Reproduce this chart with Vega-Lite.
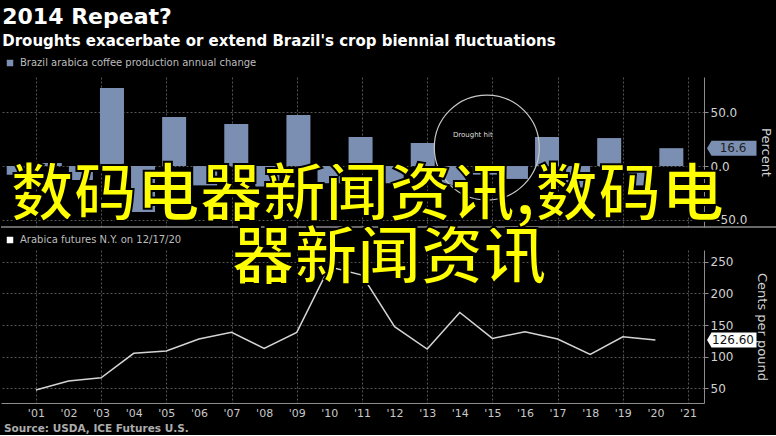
{
  "$schema": "https://vega.github.io/schema/vega-lite/v6.json",
  "background": "#000000",
  "padding": {"top": 6, "left": 0, "right": 0, "bottom": 0},
  "config": {
    "font": "DejaVu Sans",
    "view": {"stroke": null},
    "axis": {"labelFont": "DejaVu Sans", "titleFont": "DejaVu Sans", "gridColor": "#555555", "gridDash": [2, 2], "gridWidth": 1, "domainColor": "#8c8c8c", "tickColor": "#8c8c8c", "labelColor": "#d2d2d2", "titleColor": "#d2d2d2", "titleFontWeight": "normal"}
  },
  "title": {
    "text": "2014 Repeat?",
    "subtitle": "Droughts exacerbate or extend Brazil's crop biennial fluctuations",
    "anchor": "start",
    "dx": 2,
    "color": "#ffffff",
    "font": "DejaVu Sans",
    "fontSize": 22,
    "fontWeight": "bold",
    "subtitleColor": "#ffffff",
    "subtitleFont": "DejaVu Sans",
    "subtitleFontSize": 15,
    "subtitleFontWeight": "bold",
    "subtitlePadding": 5,
    "offset": 8
  },
  "resolve": {"scale": {"x": "independent", "y": "independent", "color": "independent"}, "legend": {"color": "independent"}},
  "bounds": "flush",
  "spacing": 23,
  "vconcat": [
    {
      "width": 703,
      "height": 150,
      "resolve": {"scale": {"x": "independent"}},
      "layer": [
        {
          "data": {"values": [{"sep": 1}]},
          "mark": {"type": "rule", "color": "#8a8a8a", "strokeWidth": 1.5},
          "encoding": {
            "x": {"datum": 1999.93, "type": "quantitative", "scale": {"domain": [1999.93, 2021.49], "nice": false, "zero": false},
                  "axis": {"orient": "bottom", "values": [2001, 2003, 2005, 2007, 2009, 2011, 2013, 2015, 2017, 2019, 2021], "labels": false, "ticks": false, "domain": false, "grid": true, "title": null}},
            "x2": {"datum": 2023.8},
            "y": {"datum": -56.7, "type": "quantitative", "scale": {"domain": [-56.7, 82.8], "nice": false, "zero": false},
                  "axis": {"orient": "right", "values": [-50, 0, 50], "format": ".1f", "grid": true, "tickSize": 4, "labelPadding": 2, "labelFontSize": 12, "labelOverlap": false, "title": "Percent", "titleFontSize": 13, "titleAngle": 90, "titlePadding": 12}}
          }
        },
        {
          "data": {"values": [
            {"year": 2000, "change": -8}, {"year": 2001, "change": 2.8}, {"year": 2002, "change": -13},
            {"year": 2003, "change": 72.6}, {"year": 2004, "change": -42.8}, {"year": 2005, "change": 45.6},
            {"year": 2006, "change": -18}, {"year": 2007, "change": 39.1}, {"year": 2008, "change": -19},
            {"year": 2009, "change": 47.4}, {"year": 2010, "change": -16}, {"year": 2011, "change": 27.0},
            {"year": 2012, "change": -16}, {"year": 2013, "change": 21.4}, {"year": 2014, "change": -18},
            {"year": 2015, "change": -8}, {"year": 2016, "change": -12}, {"year": 2017, "change": 27.0},
            {"year": 2018, "change": -20}, {"year": 2019, "change": 26.0}, {"year": 2020, "change": -18},
            {"year": 2021, "change": 16.6}
          ]},
          "mark": {"type": "bar", "size": 24},
          "encoding": {
            "x": {"field": "year", "type": "quantitative", "scale": {"domain": [1999.59, 2021.89], "nice": false, "zero": false}, "axis": null},
            "y": {"field": "change", "type": "quantitative", "scale": {"domain": [-56.7, 82.8], "nice": false, "zero": false},
                  "axis": {"orient": "right", "values": [-50, 0, 50], "format": ".1f", "grid": true, "tickSize": 4, "labelPadding": 2, "labelFontSize": 12, "labelOverlap": false, "title": "Percent", "titleFontSize": 13, "titleAngle": 90, "titlePadding": 12}},
            "color": {"datum": "Brazil arabica coffee production annual change", "type": "nominal", "scale": {"range": ["#7b8fb2"]},
                      "legend": {"orient": "none", "legendX": 4, "legendY": -19, "title": null, "symbolType": "square", "symbolSize": 42, "symbolStrokeWidth": 0, "labelColor": "#bdbdbd", "labelFontSize": 10, "labelFont": "DejaVu Sans", "labelOffset": 5, "labelLimit": 0, "padding": 0}}
          }
        },
        {
          "data": {"values": [{"year": 2015, "change": 17.2, "note": "Drought hit"}]},
          "layer": [
            {
              "mark": {"type": "point", "shape": "circle", "size": 11025, "filled": false, "stroke": "#c8c8c8", "strokeWidth": 1.2, "opacity": 1},
              "encoding": {
                "x": {"field": "year", "type": "quantitative", "scale": {"domain": [1999.59, 2021.89], "nice": false, "zero": false}, "axis": null},
                "y": {"field": "change", "type": "quantitative", "scale": {"domain": [-56.7, 82.8], "nice": false, "zero": false},
                      "axis": {"orient": "right", "values": [-50, 0, 50], "format": ".1f", "grid": true, "tickSize": 4, "labelPadding": 2, "labelFontSize": 12, "labelOverlap": false, "title": "Percent", "titleFontSize": 13, "titleAngle": 90, "titlePadding": 12}}
              }
            },
            {
              "mark": {"type": "text", "fontSize": 7, "color": "#dddddd", "dx": -14, "dy": -12.5},
              "encoding": {
                "x": {"field": "year", "type": "quantitative", "scale": {"domain": [1999.59, 2021.89], "nice": false, "zero": false}, "axis": null},
                "y": {"field": "change", "type": "quantitative", "scale": {"domain": [-56.7, 82.8], "nice": false, "zero": false},
                      "axis": {"orient": "right", "values": [-50, 0, 50], "format": ".1f", "grid": true, "tickSize": 4, "labelPadding": 2, "labelFontSize": 12, "labelOverlap": false, "title": "Percent", "titleFontSize": 13, "titleAngle": 90, "titlePadding": 12}},
                "text": {"field": "note"}
              }
            }
          ]
        },
        {
          "data": {"values": [{"change": 16.6, "label": "16.6"}]},
          "layer": [
            {
              "mark": {"type": "point", "shape": "M0.12,0L0.3,-0.3L2.1,-0.3L2.1,0.3L0.3,0.3Z", "size": 2500, "filled": true, "color": "#7b8fb2", "opacity": 1},
              "encoding": {
                "x": {"value": "width"},
                "y": {"field": "change", "type": "quantitative", "scale": {"domain": [-56.7, 82.8], "nice": false, "zero": false},
                      "axis": {"orient": "right", "values": [-50, 0, 50], "format": ".1f", "grid": true, "tickSize": 4, "labelPadding": 2, "labelFontSize": 12, "labelOverlap": false, "title": "Percent", "titleFontSize": 13, "titleAngle": 90, "titlePadding": 12}}
              }
            },
            {
              "mark": {"type": "text", "fontSize": 12, "color": "#1e1e1e", "align": "center", "dx": 29},
              "encoding": {
                "x": {"value": "width"},
                "y": {"field": "change", "type": "quantitative", "scale": {"domain": [-56.7, 82.8], "nice": false, "zero": false},
                      "axis": {"orient": "right", "values": [-50, 0, 50], "format": ".1f", "grid": true, "tickSize": 4, "labelPadding": 2, "labelFontSize": 12, "labelOverlap": false, "title": "Percent", "titleFontSize": 13, "titleAngle": 90, "titlePadding": 12}},
                "text": {"field": "label"}
              }
            }
          ]
        }
      ]
    },
    {
      "width": 703,
      "height": 153,
      "title": {"text": "Source: USDA, ICE Futures U.S.", "orient": "bottom", "anchor": "start", "dx": 3, "fontSize": 10.5, "fontWeight": "bold", "color": "#acacac", "font": "DejaVu Sans", "offset": 6},
      "layer": [
        {
          "data": {"values": [
            {"year": 2001, "price": 47.4}, {"year": 2002, "price": 61.6}, {"year": 2003, "price": 66.8},
            {"year": 2004, "price": 105.4}, {"year": 2005, "price": 109.0}, {"year": 2006, "price": 128.0},
            {"year": 2007, "price": 138.5}, {"year": 2008, "price": 113.3}, {"year": 2009, "price": 138.5},
            {"year": 2010, "price": 242.0}, {"year": 2011, "price": 229.0}, {"year": 2012, "price": 147.4},
            {"year": 2013, "price": 112.2}, {"year": 2014, "price": 170.0}, {"year": 2015, "price": 129.0},
            {"year": 2016, "price": 139.5}, {"year": 2017, "price": 128.0}, {"year": 2018, "price": 103.8},
            {"year": 2019, "price": 131.6}, {"year": 2020, "price": 126.6}
          ]},
          "mark": {"type": "line", "color": "#d4d4d4", "strokeWidth": 1.5},
          "encoding": {
            "x": {"field": "year", "type": "quantitative", "scale": {"domain": [1999.93, 2021.49], "nice": false, "zero": false},
                  "axis": {"orient": "bottom", "values": [2001, 2002, 2003, 2004, 2005, 2006, 2007, 2008, 2009, 2010, 2011, 2012, 2013, 2014, 2015, 2016, 2017, 2018, 2019, 2020, 2021],
                           "labelExpr": "\"'\" + substring(toString(datum.value), 2)", "grid": true,
                           "gridOpacity": {"condition": {"test": "datum.value % 2 === 1", "value": 1}, "value": 0},
                           "ticks": false, "domain": true, "labelColor": "#c8c8c8", "labelFontSize": 11, "labelPadding": 4, "title": null, "labelFlush": false, "labelOverlap": false, "labelBound": false}},
            "y": {"field": "price", "type": "quantitative", "scale": {"domain": [26.9, 268.6], "nice": false, "zero": false},
                  "axis": {"orient": "right", "values": [50, 100, 150, 200, 250], "grid": true, "tickSize": 4, "labelPadding": 2, "labelFontSize": 12, "labelOverlap": false, "title": "Cents per pound", "titleFontSize": 13, "titleAngle": 90, "titlePadding": 22}}
          }
        },
        {
          "data": {"values": [{"price": 126.6, "label": "126.60"}]},
          "layer": [
            {
              "mark": {"type": "point", "shape": "M0.12,0L0.3,-0.3L2.1,-0.3L2.1,0.3L0.3,0.3Z", "size": 2500, "filled": true, "opacity": 1},
              "encoding": {
                "x": {"value": "width"},
                "y": {"field": "price", "type": "quantitative", "scale": {"domain": [26.9, 268.6], "nice": false, "zero": false},
                      "axis": {"orient": "right", "values": [50, 100, 150, 200, 250], "grid": true, "tickSize": 4, "labelPadding": 2, "labelFontSize": 12, "labelOverlap": false, "title": "Cents per pound", "titleFontSize": 13, "titleAngle": 90, "titlePadding": 22}},
                "color": {"datum": "Arabica futures N.Y. on 12/17/20", "type": "nominal", "scale": {"range": ["#ffffff"]},
                          "legend": {"orient": "none", "legendX": 4, "legendY": -15, "title": null, "symbolType": "square", "symbolSize": 42, "symbolStrokeWidth": 0, "labelColor": "#bdbdbd", "labelFontSize": 10, "labelFont": "DejaVu Sans", "labelOffset": 5, "labelLimit": 0, "padding": 0}}
              }
            },
            {
              "mark": {"type": "text", "fontSize": 12, "color": "#111111", "align": "center", "dx": 29},
              "encoding": {
                "x": {"value": "width"},
                "y": {"field": "price", "type": "quantitative", "scale": {"domain": [26.9, 268.6], "nice": false, "zero": false},
                      "axis": {"orient": "right", "values": [50, 100, 150, 200, 250], "grid": true, "tickSize": 4, "labelPadding": 2, "labelFontSize": 12, "labelOverlap": false, "title": "Cents per pound", "titleFontSize": 13, "titleAngle": 90, "titlePadding": 22}},
                "text": {"field": "label"}
              }
            }
          ]
        },
        {
          "data": {"values": [{"t": "数码电器新闻资讯,数码电"}]},
          "mark": {"type": "text", "align": "left", "baseline": "middle", "font": "Noto Sans CJK SC", "fontSize": 63, "fontWeight": "bold", "fill": "#ffff00", "stroke": "#000000", "strokeWidth": 2},
          "encoding": {
            "x": {"datum": 2000.23, "type": "quantitative", "scale": {"domain": [1999.93, 2021.49], "nice": false, "zero": false},
                  "axis": {"orient": "bottom", "values": [2001, 2002, 2003, 2004, 2005, 2006, 2007, 2008, 2009, 2010, 2011, 2012, 2013, 2014, 2015, 2016, 2017, 2018, 2019, 2020, 2021],
                           "labelExpr": "\"'\" + substring(toString(datum.value), 2)", "grid": true,
                           "gridOpacity": {"condition": {"test": "datum.value % 2 === 1", "value": 1}, "value": 0},
                           "ticks": false, "domain": true, "labelColor": "#c8c8c8", "labelFontSize": 11, "labelPadding": 4, "title": null, "labelFlush": false, "labelOverlap": false, "labelBound": false}},
            "y": {"datum": 353.9, "type": "quantitative", "scale": {"domain": [26.9, 268.6], "nice": false, "zero": false},
                  "axis": {"orient": "right", "values": [50, 100, 150, 200, 250], "grid": true, "tickSize": 4, "labelPadding": 2, "labelFontSize": 12, "labelOverlap": false, "title": "Cents per pound", "titleFontSize": 13, "titleAngle": 90, "titlePadding": 22}},
            "text": {"field": "t"}
          }
        },
        {
          "data": {"values": [{"t": "器新闻资讯"}]},
          "mark": {"type": "text", "align": "left", "baseline": "middle", "font": "Noto Sans CJK SC", "fontSize": 63, "fontWeight": "bold", "fill": "#ffff00", "stroke": "#000000", "strokeWidth": 2},
          "encoding": {
            "x": {"datum": 2007.0, "type": "quantitative", "scale": {"domain": [1999.93, 2021.49], "nice": false, "zero": false},
                  "axis": {"orient": "bottom", "values": [2001, 2002, 2003, 2004, 2005, 2006, 2007, 2008, 2009, 2010, 2011, 2012, 2013, 2014, 2015, 2016, 2017, 2018, 2019, 2020, 2021],
                           "labelExpr": "\"'\" + substring(toString(datum.value), 2)", "grid": true,
                           "gridOpacity": {"condition": {"test": "datum.value % 2 === 1", "value": 1}, "value": 0},
                           "ticks": false, "domain": true, "labelColor": "#c8c8c8", "labelFontSize": 11, "labelPadding": 4, "title": null, "labelFlush": false, "labelOverlap": false, "labelBound": false}},
            "y": {"datum": 254.4, "type": "quantitative", "scale": {"domain": [26.9, 268.6], "nice": false, "zero": false},
                  "axis": {"orient": "right", "values": [50, 100, 150, 200, 250], "grid": true, "tickSize": 4, "labelPadding": 2, "labelFontSize": 12, "labelOverlap": false, "title": "Cents per pound", "titleFontSize": 13, "titleAngle": 90, "titlePadding": 22}},
            "text": {"field": "t"}
          }
        }
      ]
    }
  ]
}
